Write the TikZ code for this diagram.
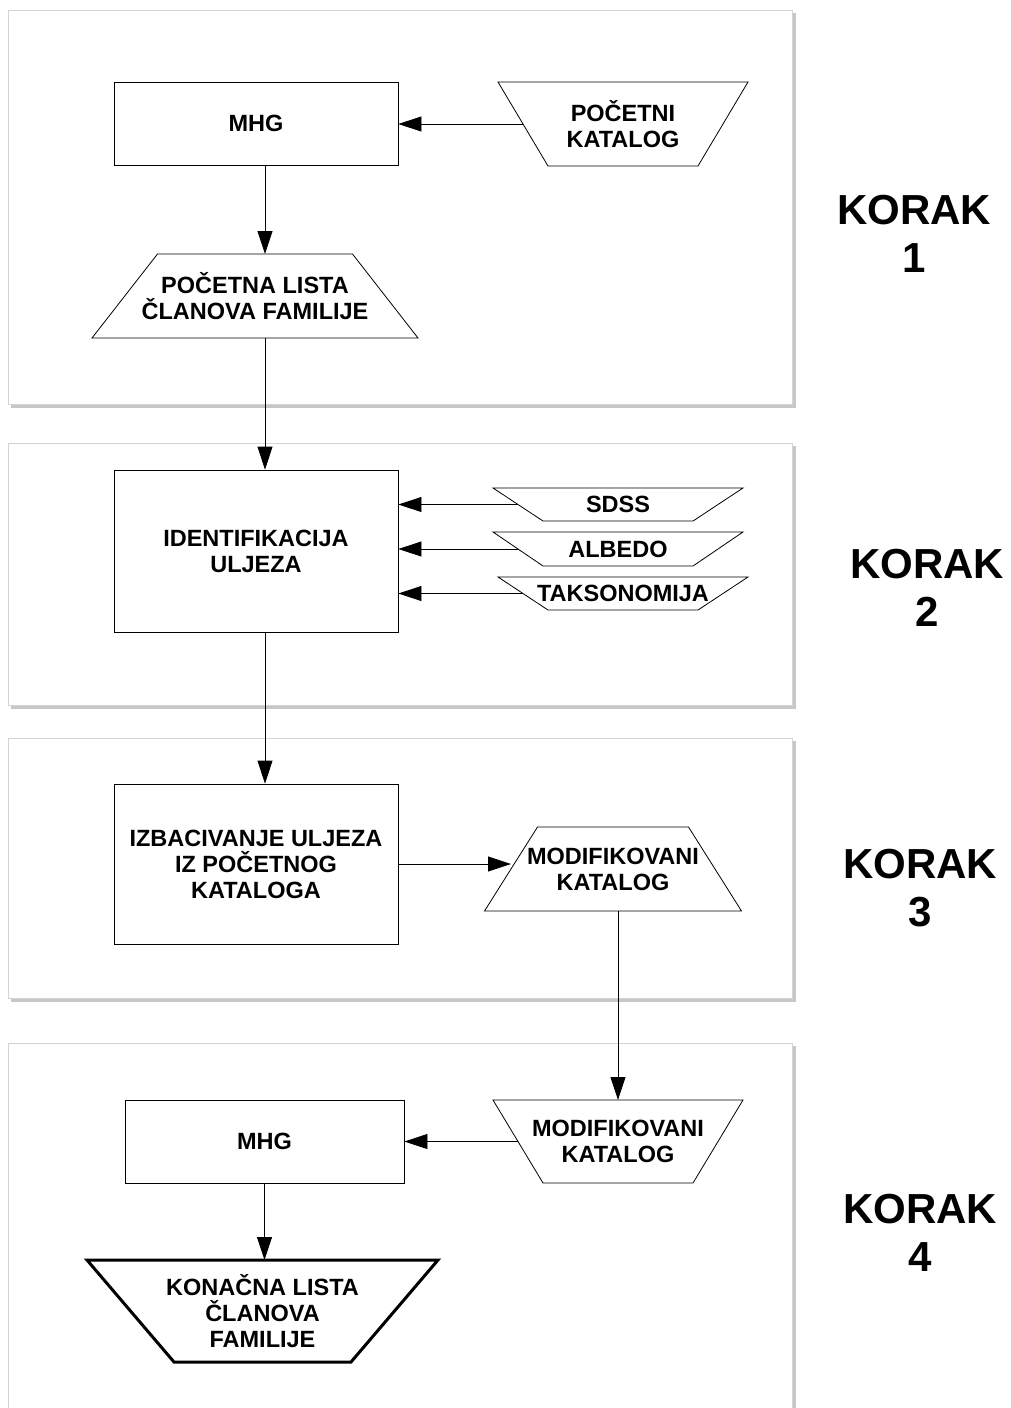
\documentclass[tikz,border=0pt]{standalone}
\usepackage{fontspec}
\setmainfont{Liberation Sans}
\usetikzlibrary{arrows.meta}

\tikzset{
  blok/.style={draw, line width=0.8pt, minimum width=284pt, minimum height=83pt,
    inner sep=0pt, align=center, font=\bfseries\fontsize{23.5}{26}\selectfont},
  pod/.style={inner sep=0pt, outer sep=0pt, align=center,
    font=\bfseries\fontsize{23.5}{26}\selectfont},
  veza/.style={line width=0.8pt, -{Triangle[length=23pt,width=15pt]}},
  korak/.style={align=center, font=\bfseries\fontsize{42}{48}\selectfont},
  okvir/.style={draw=black!17, fill=white, line width=1pt},
  senka/.style={fill=black!22}
}
% trapezoid outline round a data node: [options]{node}{top inset}{bottom inset}
\newcommand{\obrub}[4][]{%
  \draw[line width=0.8pt, #1] ([xshift=#3pt]#2.north west) -- ([xshift=-#3pt]#2.north east)
    -- ([xshift=-#4pt]#2.south east) -- ([xshift=#4pt]#2.south west) -- cycle;
  \coordinate (#2-l) at ([xshift=#3pt/2+#4pt/2]#2.west);
}

\begin{document}
\begin{tikzpicture}[x=1pt,y=-1pt]
                \useasboundingbox (0,0) rectangle (1011,1408);
                %% Frames
                \foreach \ya/\yb in {10/404, 443/705, 738/998, 1043/1440} {
                  \fill[senka] (11,\ya+3) rectangle (796,\yb+3.5);
                  \draw[okvir] (8,\ya) rectangle (792,\yb);
                }
                %% Korak 1
                \node[blok] (mhgA) at (256,123.5) {MHG};
                \node[pod, minimum width=250pt, minimum height=84pt] (pk) at (623,124) {POČETNI\\KATALOG};
                \obrub{pk}{0}{50}
                \node[pod, minimum width=326pt, minimum height=84pt] (pl) at (255,296) {POČETNA LISTA\\ČLANOVA FAMILIJE};
                \obrub{pl}{65.5}{0}
                %% Korak 2
                \node[blok, minimum height=162pt] (idb) at (256,551) {IDENTIFIKACIJA\\ULJEZA};
                \node[pod, minimum width=250pt, minimum height=33pt] (sdss) at (618,504.5) {SDSS};
                \obrub{sdss}{0}{50}
                \node[pod, minimum width=250pt, minimum height=34pt] (albedo) at (618,549) {ALBEDO};
                \obrub{albedo}{0}{50}
                \node[pod, minimum width=250pt, minimum height=33pt] (takso) at (623,593.5) {TAKSONOMIJA};
                \obrub{takso}{0}{50}
                %% Korak 3
                \node[blok, minimum height=160pt] (izb) at (256,864) {IZBACIVANJE ULJEZA\\IZ POČETNOG\\KATALOGA};
                \node[pod, minimum width=257pt, minimum height=84pt] (mkA) at (613,869) {MODIFIKOVANI\\KATALOG};
                \obrub{mkA}{53}{0}
                %% Korak 4
                \node[blok, minimum width=279pt] (mhgB) at (264.5,1141.5) {MHG};
                \node[pod, minimum width=250pt, minimum height=83pt] (mkB) at (618,1141.5) {MODIFIKOVANI\\KATALOG};
                \obrub{mkB}{0}{50}
                \node[pod, minimum width=351pt, minimum height=102pt] (kl) at (262.5,1311) {KONAČNA LISTA\\ČLANOVA\\FAMILIJE};
                \obrub[line width=3pt]{kl}{0}{87}
                %% Labels
                \node[korak] (korA) at (914,234) {KORAK\\1};
                \node[korak] (korB) at (927,588) {KORAK\\2};
                \node[korak] (korC) at (920,888) {KORAK\\3};
                \node[korak] (korD) at (920,1233) {KORAK\\4};
                %% Arrows
                \draw[veza] (pk-l) -- (pk-l -| mhgA.east);
                \draw[veza] ([xshift=9pt]mhgA.south) -- ([xshift=9pt]mhgA.south |- pl.north);
                \draw[veza] ([xshift=9pt]mhgA.south |- pl.south) -- ([xshift=9pt]mhgA.south |- idb.north);
                \draw[veza] (sdss-l) -- (sdss-l -| idb.east);
                \draw[veza] (albedo-l) -- (albedo-l -| idb.east);
                \draw[veza] (takso-l) -- (takso-l -| idb.east);
                \draw[veza] ([xshift=9pt]idb.south) -- ([xshift=9pt]idb.south |- izb.north);
                \draw[veza] (izb.east) -- (izb.east -| mkA-l);
                \draw[veza] (mkB.north |- mkA.south) -- (mkB.north);
                \draw[veza] (mkB-l) -- (mkB-l -| mhgB.east);
                \draw[veza] (mhgB.south) -- (mhgB.south |- kl.north);
            \end{tikzpicture}
\end{document}
